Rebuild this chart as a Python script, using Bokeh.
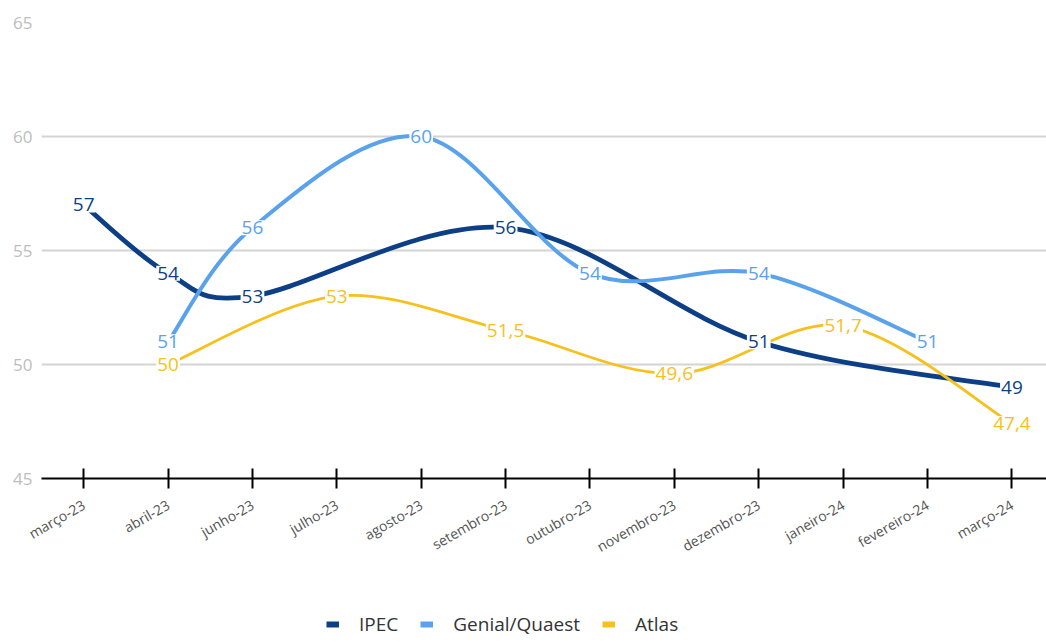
import math
import numpy as np
from bokeh.plotting import figure
from bokeh.layouts import column
from bokeh.models import FixedTicker, Legend, LegendItem, Range1d
from bokeh.core.properties import value
from bokeh.embed import file_html
from bokeh.resources import INLINE

categories = ["março-23", "abril-23", "junho-23", "julho-23", "agosto-23", "setembro-23",
              "outubro-23", "novembro-23", "dezembro-23", "janeiro-24", "fevereiro-24", "março-24"]
ipec = [57, 54, 53, None, None, 56, None, None, 51, None, None, 49]
genial = [None, 51, 56, None, 60, None, 54, None, 54, None, 51, None]
atlas = [None, 50, None, 53, None, 51.5, None, 49.6, None, 51.7, None, 47.4]
series_names = ["IPEC", "Genial/Quaest", "Atlas"]
series_colors = ["#0d3f86", "#5aa3ec", "#f6c11c"]
series_widths = [4.8, 4, 2.8]
y_ticks = [45, 50, 55, 60, 65]

FONT = "Open Sans"

p = figure(width=1046, height=580, output_backend="svg", toolbar_location=None,
           x_range=Range1d(-0.5, 11.41), y_range=Range1d(45, 65),
           min_border_left=41, min_border_right=0, min_border_top=22, min_border_bottom=102)
p.outline_line_color = None
p.background_fill_color = "white"
p.border_fill_color = "white"

# axes
p.xaxis.ticker = FixedTicker(ticks=list(range(len(categories))))
p.xaxis.major_label_overrides = {i: c for i, c in enumerate(categories)}
p.xaxis.major_label_orientation = math.pi / 6
p.xaxis.axis_line_color = "black"
p.xaxis.axis_line_width = 2
p.xaxis.major_tick_line_color = "black"
p.xaxis.major_tick_line_width = 2
p.xaxis.major_tick_in = 10
p.xaxis.major_tick_out = 10
p.xaxis.minor_tick_line_color = None
p.xaxis.major_label_text_font = FONT
p.xaxis.major_label_text_font_size = "14px"
p.xaxis.major_label_text_color = "#555555"
p.xaxis.major_label_standoff = 15

p.yaxis.ticker = FixedTicker(ticks=y_ticks)
p.yaxis.axis_line_color = None
p.yaxis.major_tick_line_color = None
p.yaxis.minor_tick_line_color = None
p.yaxis.major_tick_out = 0
p.yaxis.major_tick_in = 0
p.yaxis.major_label_text_font = FONT
p.yaxis.major_label_text_font_size = "17px"
p.yaxis.major_label_text_color = "#bdbdbd"
p.yaxis.major_label_standoff = 9

p.xgrid.visible = False
p.ygrid.ticker = FixedTicker(ticks=y_ticks)
p.ygrid.grid_line_color = "#d4d4d4"
p.ygrid.grid_line_width = 2


def smooth_segments(xs, ys):
    P = np.column_stack([xs, ys]).astype(float)
    n = len(P)
    ext = np.vstack([P[0], P, P[-1]])
    c0 = P[:-1] + (ext[2:n + 1] - ext[0:n - 1]) / 6.0
    c1 = P[1:] - (ext[3:n + 2] - ext[1:n]) / 6.0
    return P, c0, c1


# legend strip below the chart (its own frame so the legend is not clipped)
pl = figure(width=1046, height=64, output_backend="svg", toolbar_location=None,
            x_range=Range1d(-100, -99), y_range=Range1d(-100, -99),
            min_border=0, x_axis_location=None, y_axis_location=None)
pl.outline_line_color = None
pl.grid.visible = False
pl.background_fill_color = "white"
pl.border_fill_color = "white"

items = []
label_data = []
for name, vals, color, lw in zip(series_names, [ipec, genial, atlas], series_colors, series_widths):
    xs = [i for i, v in enumerate(vals) if v is not None]
    ys = [v for v in vals if v is not None]
    P, c0, c1 = smooth_segments(xs, ys)
    p.bezier(x0=P[:-1, 0], y0=P[:-1, 1], x1=P[1:, 0], y1=P[1:, 1],
             cx0=c0[:, 0], cy0=c0[:, 1], cx1=c1[:, 0], cy1=c1[:, 1],
             line_color=color, line_width=lw)
    # legend proxy (same series, outside the strip's visible ranges)
    rl = pl.line(xs, ys, line_color=color, line_width=6)
    items.append(LegendItem(label=name, renderers=[rl]))
    label_data.append((xs, ys, color))

for xs, ys, color in label_data:
    texts = [(f"{v:g}").replace(".", ",") for v in ys]
    p.text(x=xs, y=ys, text=texts, text_align="center", text_baseline="middle",
           text_font=value(FONT), text_font_size="19px", text_color=color,
           background_fill_color="white", padding=1)

legend = Legend(items=items, orientation="horizontal", location=(285, 7),
                label_text_font=FONT, label_text_font_size="19px", label_text_color="#333333",
                glyph_width=13, glyph_height=22, label_standoff=20, spacing=22,
                border_line_color=None, background_fill_alpha=0, padding=0, margin=0)
pl.add_layout(legend, "center")

layout = column(p, pl, spacing=0)
open("out.html", "w").write(file_html(layout, INLINE))
